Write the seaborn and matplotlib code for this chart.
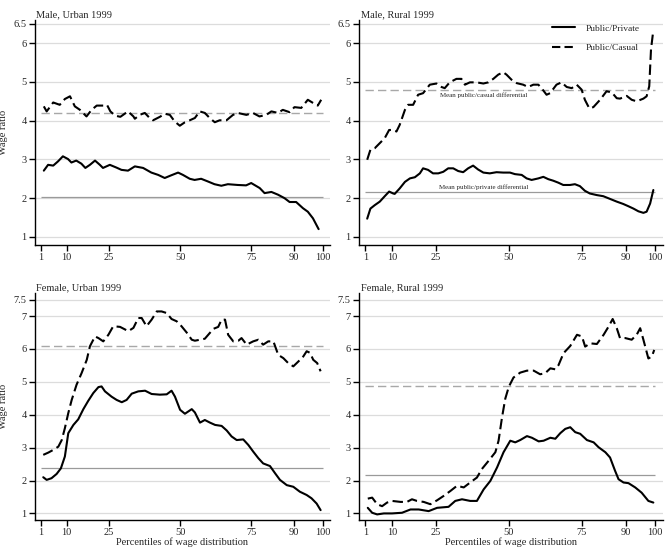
import numpy as np
import pandas as pd
import matplotlib
matplotlib.use("Agg")
import matplotlib.pyplot as plt
import seaborn as sns
from matplotlib.lines import Line2D

# ---------------- data ----------------
# Male, Urban 1999
mu_pri_p = [2, 3.5, 5.3, 7, 8.7, 10.5, 11.7, 13.4, 15.2, 16.6, 18.2, 20, 21.7, 22.8, 25.2, 27.5, 29.3, 31.6, 34,
            36.9, 39.8, 42.2, 44.5, 46.8, 49.2, 50.9, 53.3, 55, 57.3, 59.7, 62, 64.4, 66.7, 70.2, 73.1, 74.9, 77.9,
            79.6, 82, 84.3, 86.6, 88.4, 90.7, 93.1, 94.8, 96.6, 98.6]
mu_pri = [2.71, 2.86, 2.84, 2.95, 3.08, 3.01, 2.92, 2.97, 2.89, 2.78, 2.86, 2.97, 2.86, 2.78, 2.86, 2.79, 2.73, 2.71,
          2.82, 2.78, 2.66, 2.60, 2.52, 2.59, 2.66, 2.60, 2.50, 2.47, 2.50, 2.43, 2.36, 2.32, 2.36, 2.34, 2.33, 2.39,
          2.26, 2.13, 2.16, 2.09, 2.00, 1.90, 1.90, 1.74, 1.65, 1.48, 1.20]
mu_cas_p = [2, 3, 5.3, 7.6, 9.4, 11.2, 12.9, 14.7, 17, 18.8, 20.6, 23, 24.2, 25.4, 27.1, 28.9, 31.6, 33.5, 34, 35.7,
            37.5, 39.2, 40.4, 42.8, 44.5, 46.3, 48, 49.8, 51.6, 53.3, 55.1, 56.8, 58.6, 60.3, 62.1, 63.8, 66.2, 68.5,
            70.2, 73.2, 75.5, 77.8, 80.2, 82, 84.3, 86, 88.4, 90.1, 92.5, 94.8, 96.6, 98.3, 99.5]
mu_cas = [4.37, 4.24, 4.47, 4.41, 4.56, 4.63, 4.37, 4.28, 4.11, 4.28, 4.39, 4.39, 4.41, 4.24, 4.13, 4.10, 4.24, 4.11,
          4.05, 4.15, 4.20, 4.07, 4.01, 4.10, 4.18, 4.15, 3.98, 3.87, 3.96, 4.01, 4.07, 4.24, 4.20, 4.07, 3.96, 4.01,
          4.01, 4.15, 4.20, 4.15, 4.20, 4.11, 4.15, 4.24, 4.20, 4.28, 4.22, 4.35, 4.33, 4.54, 4.46, 4.39, 4.54]
mu_mean_pri, mu_mean_cas = 2.03, 4.20

# Male, Rural 1999
mr_pri_p = [1.6, 2.7, 4.2, 5.9, 7.6, 9.1, 10.5, 11, 12.7, 14.5, 16.2, 17.9, 19.6, 20.7, 22.4, 24.1, 25.9, 27.6, 29.3,
            31, 32.7, 34.4, 36.1, 37.8, 39.5, 41.3, 43.5, 45.8, 48.1, 50.4, 52.1, 54.4, 56.1, 57.8, 60.1, 61.8, 63.5,
            65.2, 66.9, 68.6, 70.9, 72.6, 74.3, 76, 77.7, 80, 82.3, 84.6, 86.9, 89.1, 90.9, 92.6, 94.3, 96, 97.1,
            98.3, 99.4]
mr_pri = [1.47, 1.73, 1.82, 1.91, 2.05, 2.17, 2.12, 2.11, 2.25, 2.42, 2.51, 2.54, 2.64, 2.77, 2.73, 2.64, 2.64, 2.68,
          2.77, 2.77, 2.70, 2.67, 2.77, 2.84, 2.74, 2.66, 2.64, 2.67, 2.66, 2.66, 2.62, 2.60, 2.51, 2.47, 2.51, 2.55,
          2.49, 2.45, 2.40, 2.34, 2.34, 2.36, 2.31, 2.19, 2.12, 2.08, 2.05, 1.98, 1.91, 1.85, 1.79, 1.73, 1.66, 1.62,
          1.65, 1.86, 2.21]
mr_cas_p = [1.6, 2.7, 4.2, 5.9, 7.6, 9.1, 10.5, 11.6, 12.7, 14.5, 15.6, 17.3, 19, 20.7, 23, 25.3, 27, 28.1, 29.8,
            32.1, 33.8, 35, 36.7, 39, 41.3, 43, 44.7, 46.4, 48.1, 49.2, 50.9, 52.7, 54.9, 56.6, 58.4, 60.1, 61.8,
            62.9, 64.1, 66.3, 68, 69.8, 71.5, 73.2, 74.9, 76, 77.5, 78.9, 81.2, 83.4, 85.2, 86.9, 88, 90.3, 92, 93.7,
            96, 97.1, 98, 98.6, 99.3]
mr_cas = [2.99, 3.25, 3.29, 3.42, 3.55, 3.76, 3.76, 3.72, 3.89, 4.28, 4.41, 4.41, 4.67, 4.71, 4.93, 4.96, 4.87, 4.84,
          4.99, 5.08, 5.08, 4.93, 4.99, 4.99, 4.96, 4.99, 5.08, 5.19, 5.25, 5.19, 5.06, 4.97, 4.93, 4.87, 4.93, 4.93,
          4.78, 4.67, 4.71, 4.93, 4.99, 4.87, 4.84, 4.93, 4.80, 4.54, 4.32, 4.35, 4.54, 4.76, 4.73, 4.58, 4.57, 4.64,
          4.54, 4.50, 4.57, 4.63, 4.89, 5.84, 6.28]
mr_mean_pri, mr_mean_cas = 2.15, 4.78

# Female, Urban 1999
fu_pri_p = [1.8, 3, 4.7, 6.5, 8, 9.4, 10.6, 12.4, 14.1, 15.9, 17.6, 19.4, 21.2, 22.3, 23.5, 25.8, 27.6, 29.4, 31.1,
            32.9, 35.2, 37.6, 39.9, 42.8, 45.2, 46.9, 48.1, 49.9, 51.6, 54, 55.1, 56.9, 58.6, 60.4, 62.2, 64.5, 66.3,
            68, 69.8, 72.1, 73.9, 75.6, 77.4, 79.1, 81.5, 83.3, 85, 87.4, 89.7, 92, 94.4, 96.1, 97.9, 99.3]
fu_pri = [2.10, 2.02, 2.07, 2.20, 2.37, 2.73, 3.44, 3.69, 3.86, 4.17, 4.42, 4.66, 4.84, 4.86, 4.71, 4.55, 4.45, 4.38,
          4.45, 4.64, 4.71, 4.73, 4.63, 4.61, 4.62, 4.73, 4.55, 4.15, 4.03, 4.17, 4.07, 3.76, 3.84, 3.76, 3.69, 3.66,
          3.52, 3.34, 3.23, 3.25, 3.08, 2.88, 2.68, 2.52, 2.44, 2.22, 2.02, 1.86, 1.81, 1.66, 1.56, 1.46, 1.30, 1.10]
fu_cas_p = [1.8, 3.6, 5.3, 7.1, 8.3, 9.4, 10.6, 11.8, 13.5, 15.3, 17.1, 18.2, 20, 21.2, 22.9, 24.7, 26.4, 28.8, 31.7,
            33.5, 35.2, 36.4, 38.1, 39.9, 41.7, 43.4, 45.2, 46.9, 48.7, 50.4, 52.2, 54, 55.1, 56.9, 58.6, 59.8, 61.6,
            63.3, 64.5, 65.7, 66.8, 68.6, 70.4, 71.5, 73.3, 75.6, 77.4, 79.1, 80.9, 82.7, 84.4, 86.2, 87.9, 89.7,
            91.5, 93.2, 94.4, 95.6, 96.7, 98.1, 99.3]
fu_cas = [2.78, 2.85, 2.93, 3.03, 3.23, 3.59, 4.05, 4.45, 4.91, 5.27, 5.67, 6.08, 6.38, 6.33, 6.23, 6.43, 6.69, 6.67,
          6.54, 6.64, 6.94, 6.94, 6.69, 6.89, 7.14, 7.14, 7.09, 6.91, 6.84, 6.69, 6.50, 6.28, 6.25, 6.28, 6.31, 6.43,
          6.61, 6.67, 6.89, 6.89, 6.43, 6.23, 6.25, 6.33, 6.13, 6.23, 6.28, 6.13, 6.23, 6.23, 5.82, 5.72, 5.57, 5.47,
          5.62, 5.77, 5.93, 5.88, 5.67, 5.57, 5.32]
fu_mean_pri, fu_mean_cas = 2.37, 6.10

# Female, Rural 1999
fr_pri_p = [1.8, 3.3, 5, 7.3, 10.1, 13.5, 16.4, 19.2, 22.6, 25.5, 29.4, 31.7, 34, 36.8, 39.1, 41.4, 43.7, 46, 48.2,
            50.5, 52.2, 53.9, 56.2, 57.9, 60.2, 61.9, 64.2, 65.9, 67.6, 69.3, 71, 72.7, 74.4, 76.7, 79, 80.7, 83,
            84.6, 86.3, 87.5, 89.2, 90.9, 93.2, 95.4, 97.7, 99.4]
fr_pri = [1.17, 1.02, 0.97, 1.00, 1.00, 1.02, 1.12, 1.12, 1.07, 1.17, 1.20, 1.38, 1.43, 1.38, 1.38, 1.73, 1.99, 2.40,
          2.86, 3.21, 3.16, 3.23, 3.35, 3.30, 3.19, 3.21, 3.30, 3.27, 3.44, 3.57, 3.62, 3.47, 3.42, 3.23, 3.16, 3.01,
          2.86, 2.70, 2.30, 2.04, 1.94, 1.92, 1.79, 1.63, 1.38, 1.33]
fr_cas_p = [1.8, 3.3, 5, 6.7, 8.4, 10.1, 13, 15.2, 16.9, 18.6, 20.9, 23.2, 25.5, 27.7, 30, 32.3, 34.6, 36.8, 39.1,
            40.8, 43.1, 45.4, 46.5, 47.7, 48.8, 50, 51.6, 53.9, 56.2, 58.5, 60.7, 62.4, 64.2, 65.9, 67, 68.7, 71,
            73.3, 75, 76.1, 77.8, 80.1, 82.4, 84.1, 85.5, 86.9, 88, 89.8, 92, 93.7, 94.9, 96, 97.7, 98.9, 99.7]
fr_cas = [1.45, 1.48, 1.28, 1.22, 1.33, 1.38, 1.35, 1.35, 1.43, 1.38, 1.35, 1.28, 1.40, 1.53, 1.68, 1.84, 1.79, 1.94,
          2.09, 2.35, 2.60, 2.86, 3.21, 3.93, 4.49, 4.85, 5.13, 5.28, 5.34, 5.34, 5.23, 5.26, 5.41, 5.38, 5.51, 5.87,
          6.09, 6.43, 6.38, 6.07, 6.17, 6.15, 6.43, 6.68, 6.91, 6.63, 6.33, 6.33, 6.28, 6.43, 6.63, 6.28, 5.71, 5.77,
          5.97]
fr_mean_pri, fr_mean_cas = 2.17, 4.86

titles = ["Male, Urban 1999", "Male, Rural 1999", "Female, Urban 1999", "Female, Rural 1999"]
x_ticks = [1, 10, 25, 50, 75, 90, 100]
y_ticks_top = [1, 2, 3, 4, 5, 6, 6.5]
y_ticks_bot = [1, 2, 3, 4, 5, 6, 7, 7.5]
series_labels = ["Public/Private", "Public/Casual"]

# ---------------- style ----------------
sns.set_theme(style="white")
plt.rcParams['font.family'] = ['Liberation Serif', 'DejaVu Serif']
plt.rcParams['axes.linewidth'] = 1.0

W, H = 668, 549
fig = plt.figure(figsize=(W / 100, H / 100), dpi=100)

def rect(l, r, t, b):
    return [l / W, 1 - b / H, (r - l) / W, (b - t) / H]

panels = [
    dict(rect=rect(35, 330, 20, 245), xlim=(-1.1, 102.6), ylim=(0.79, 6.6), yt=y_ticks_top,
         pri=(mu_pri_p, mu_pri), cas=(mu_cas_p, mu_cas), means=(mu_mean_pri, mu_mean_cas)),
    dict(rect=rect(359, 663, 20, 245), xlim=(-1.2, 102.7), ylim=(0.79, 6.6), yt=y_ticks_top,
         pri=(mr_pri_p, mr_pri), cas=(mr_cas_p, mr_cas), means=(mr_mean_pri, mr_mean_cas)),
    dict(rect=rect(35, 330, 293, 520), xlim=(-1.1, 102.6), ylim=(0.8, 7.7), yt=y_ticks_bot,
         pri=(fu_pri_p, fu_pri), cas=(fu_cas_p, fu_cas), means=(fu_mean_pri, fu_mean_cas)),
    dict(rect=rect(359, 663, 293, 520), xlim=(-1.2, 102.7), ylim=(0.8, 7.7), yt=y_ticks_bot,
         pri=(fr_pri_p, fr_pri), cas=(fr_cas_p, fr_cas), means=(fr_mean_pri, fr_mean_cas)),
]

FS = 7.5
DASH = (0, (5, 2.2))
for i, pnl in enumerate(panels):
    ax = fig.add_axes(pnl["rect"])
    ax.set_xlim(*pnl["xlim"])
    ax.set_ylim(*pnl["ylim"])
    for yv in pnl["yt"]:
        ax.axhline(yv, color="#dcdcdc", lw=0.9, zorder=0)
    mp, mc = pnl["means"]
    ax.hlines(mc, 1, 100, colors="#a8a8a8", linestyles=(0, (6, 3)), lw=1.0, zorder=1)
    ax.hlines(mp, 1, 100, colors="#9a9a9a", linestyles="-", lw=0.9, zorder=1)

    dfp = pd.DataFrame({"pct": pnl["pri"][0], "ratio": pnl["pri"][1]})
    dfc = pd.DataFrame({"pct": pnl["cas"][0], "ratio": pnl["cas"][1]})
    sns.lineplot(data=dfp, x="pct", y="ratio", ax=ax, color="black", lw=1.5, zorder=3)
    sns.lineplot(data=dfc, x="pct", y="ratio", ax=ax, color="black", lw=1.5,
                 linestyle=DASH, zorder=3)

    ax.set_xticks(x_ticks)
    ax.set_xticklabels([str(t) for t in x_ticks], fontsize=FS)
    ax.set_yticks(pnl["yt"])
    ax.set_yticklabels([("%g" % t) for t in pnl["yt"]], fontsize=FS)
    ax.tick_params(axis="both", direction="out", length=4, width=1, color="black",
                   pad=2, bottom=True, left=True)
    for s in ["top", "right"]:
        ax.spines[s].set_visible(False)
    for s in ["left", "bottom"]:
        ax.spines[s].set_color("black")
    ax.set_xlabel("")
    ax.set_ylabel("")
    ax.text(0.005, 1.005, titles[i], transform=ax.transAxes, fontsize=FS,
            ha="left", va="bottom")
    if i in (0, 2):
        ax.set_ylabel("Wage ratio", fontsize=FS)
        ax.yaxis.set_label_coords(-0.092, 0.5)
    if i in (2, 3):
        ax.set_xlabel("Percentiles of wage distribution", fontsize=FS, labelpad=0)
    if i == 1:
        ax.text(41.5, mc - 0.05, "Mean public/casual differential", fontsize=5,
                ha="center", va="top")
        ax.text(41.5, mp + 0.06, "Mean public/private differential", fontsize=5,
                ha="center", va="bottom")
        handles = [Line2D([], [], color="black", lw=1.5),
                   Line2D([], [], color="black", lw=1.5, linestyle=(0, (4, 2)))]
        ax.legend(handles, series_labels, loc="upper right", frameon=False, fontsize=6.8,
                  handlelength=2.4, handletextpad=1.1, labelspacing=1.15,
                  bbox_to_anchor=(0.95, 1.02))

fig.savefig("out.png", dpi=100)
